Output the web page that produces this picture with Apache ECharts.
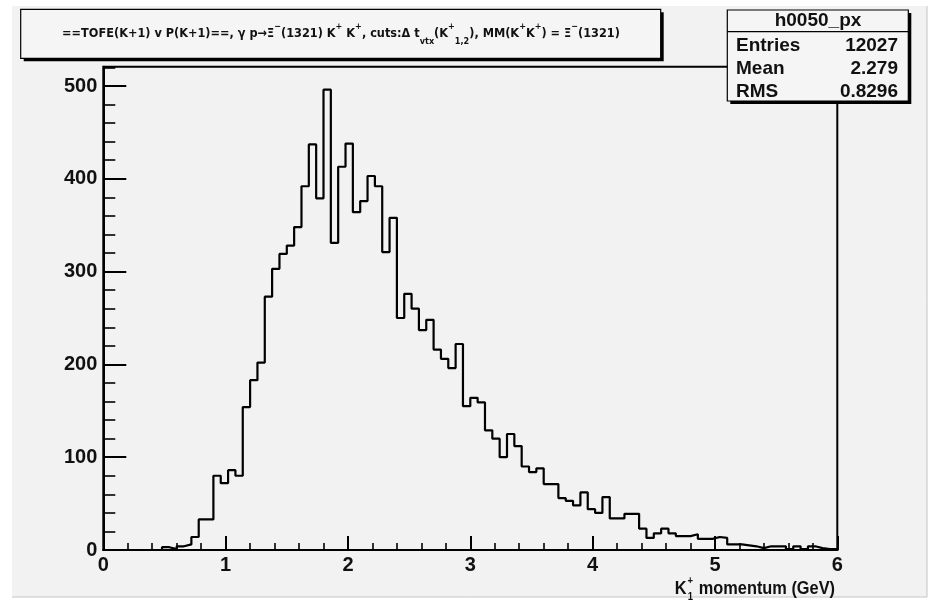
<!DOCTYPE html>
<html>
<head>
<meta charset="utf-8">
<title>h0050_px</title>
<script src="https://cdn.jsdelivr.net/npm/echarts@6/dist/echarts.min.js"></script>
<style>
  html, body { margin: 0; padding: 0; background: #ffffff; }
  #chart { width: 931px; height: 606px; }
</style>
</head>
<body>
<div id="chart"></div>
<script>
// K1+ momentum histogram: 100 bins of 0.06 GeV between 0 and 6 GeV
const binLow = 0;
const binWidth = 0.06;
const counts = [
  0, 0, 0, 0, 0, 0, 0, 0, 3, 1,
  4, 6, 14, 33, 33, 80, 72, 86, 80, 154,
  183, 202, 273, 303, 319, 328, 348, 392, 437, 379,
  496, 331, 413, 438, 364, 376, 403, 392, 321, 358,
  250, 276, 260, 237, 248, 216, 206, 196, 222, 155,
  164, 159, 129, 120, 100, 125, 112, 90, 84, 88,
  71, 71, 56, 53, 48, 62, 44, 40, 57, 34,
  34, 39, 39, 23, 13, 18, 23, 18, 15, 15,
  17, 12, 12, 14, 13, 6, 6, 5, 4, 2,
  4, 4, 4, 1, 4, 1, 4, 2, 1, 1
];

// axis ticks
const xTicks = [0, 1, 2, 3, 4, 5, 6];
const yTicks = [0, 100, 200, 300, 400, 500];
const yMinorStep = 20;
const yMax = 520.8;

// text
const titleText = '{n|==TOFE(K+1) v P(K+1)==, γ p→Ξ}{sup|−}{n|(1321) K}{sup|+}{n| K}{sup|+}' +
  '{n|, cuts:Δ t}{sub|vtx}{n|(K}{sup|+}{sub|1,2}{n|), MM(K}{sup|+}{n|K}{sup|+}{n|) = Ξ}{sup|−}{n|(1321)}';
const statsName = 'h0050_px';
const statsLabels = ['Entries', 'Mean', 'RMS'];
const statsValues = ['12027', '2.279', '0.8296'];
const xTitleMain = 'K';
const xTitleSup = '+';
const xTitleSub = '1';
const xTitleRest = ' momentum (GeV)';

const FONT = '"Liberation Sans", Arial, Helvetica, sans-serif';
const FONT_N = '"Liberation Sans Narrow", "DejaVu Sans Condensed", "Liberation Sans", sans-serif';

// outline points of the histogram (lower bin edges plus the closing edge)
const outline = counts.map((c, i) => [binLow + i * binWidth, c]);
outline.push([binLow + counts.length * binWidth, counts[counts.length - 1]]);

function measure(text, font) {
  const ctx = document.createElement('canvas').getContext('2d');
  ctx.font = font;
  return ctx.measureText(text).width;
}

const chart = echarts.init(document.getElementById('chart'), null, { renderer: 'canvas' });

const gridL = 103.3, gridR = 837.3, gridT = 66.7, gridB = 550;

// x axis title: condensed bold text, right aligned with the frame
const xTitleFont = 'bold 19px "Liberation Sans", Arial, sans-serif';
const xTitleScale = 0.86;
const restW = measure(xTitleRest, xTitleFont);
const scriptOff = -restW - 9;

const axisText = { color: '#111', fontSize: 20, fontWeight: 'bold', fontFamily: FONT };
const statsFont = 'bold 19px ' + FONT;

const option = {
  backgroundColor: 'transparent',
  animation: false,
  grid: {
    left: gridL, right: 931 - gridR, top: gridT, bottom: 606 - gridB,
    show: true, borderColor: '#000', borderWidth: 2, backgroundColor: 'transparent',
    containLabel: false
  },
  xAxis: {
    type: 'value',
    min: xTicks[0], max: xTicks[xTicks.length - 1], interval: xTicks[1] - xTicks[0],
    axisLine: { show: true, lineStyle: { color: '#000', width: 2 } },
    axisTick: { show: true, inside: true, length: 14, lineStyle: { color: '#000', width: 2 } },
    minorTick: { show: true, splitNumber: 5, length: 7, lineStyle: { color: '#000', width: 1.6 } },
    splitLine: { show: false },
    axisLabel: Object.assign({ margin: 5 }, axisText)
  },
  yAxis: [
    {
      type: 'value', position: 'left',
      min: yTicks[0], max: yMax, interval: yTicks[1] - yTicks[0],
      axisLine: { show: true, lineStyle: { color: '#000', width: 2 } },
      axisTick: { show: true, inside: true, length: 23, lineStyle: { color: '#000', width: 2 } },
      splitLine: { show: false },
      axisLabel: Object.assign({ margin: 6, showMaxLabel: false }, axisText)
    },
    {
      // minor ticks every 20 entries
      type: 'value', position: 'left', offset: 0,
      min: yTicks[0], max: yMax, interval: yMinorStep,
      axisLine: { show: false },
      axisTick: { show: true, inside: true, length: 12, lineStyle: { color: '#000', width: 1.6 } },
      splitLine: { show: false },
      axisLabel: { show: false }
    }
  ],
  series: [{
    type: 'line',
    step: 'end',
    data: outline,
    symbol: 'none',
    silent: true,
    lineStyle: { color: '#000', width: 2.2 },
    z: 3
  }],
  graphic: [
    // canvas pad
    { type: 'rect', z: -20, silent: true, shape: { x: 12, y: 6, width: 915, height: 591 }, style: { fill: '#f2f2f2' } },
    { type: 'line', z: -19, silent: true, shape: { x1: 927, y1: 6, x2: 927, y2: 597 }, style: { stroke: '#c4c4c4', lineWidth: 1 } },
    { type: 'line', z: -19, silent: true, shape: { x1: 12, y1: 597, x2: 927, y2: 597 }, style: { stroke: '#c4c4c4', lineWidth: 1 } },

    // title box with shadow
    { type: 'rect', z: 100, silent: true, shape: { x: 23.7, y: 12.3, width: 640, height: 49 }, style: { fill: '#000' } },
    { type: 'rect', z: 101, silent: true, shape: { x: 20.7, y: 9.3, width: 640, height: 49 }, style: { fill: '#f5f5f5', stroke: '#000', lineWidth: 1.2 } },
    {
      type: 'text', z: 102, silent: true, x: 341, y: 34,
      style: {
        text: titleText, align: 'center', verticalAlign: 'middle', textAlign: 'center', textVerticalAlign: 'middle',
        fill: '#111',
        rich: {
          n: { fontSize: 12.6, fontWeight: 'bold', fontFamily: FONT_N, lineHeight: 24, verticalAlign: 'middle', color: '#111' },
          sup: { fontSize: 9, fontWeight: 'bold', fontFamily: FONT_N, lineHeight: 11, verticalAlign: 'top', color: '#111' },
          sub: { fontSize: 9, fontWeight: 'bold', fontFamily: FONT_N, lineHeight: 11, verticalAlign: 'bottom', color: '#111' }
        }
      }
    },

    // statistics box with shadow
    { type: 'rect', z: 100, silent: true, shape: { x: 730.3, y: 13, width: 181, height: 91 }, style: { fill: '#000' } },
    { type: 'rect', z: 101, silent: true, shape: { x: 727.3, y: 10, width: 181, height: 91 }, style: { fill: '#f5f5f5', stroke: '#000', lineWidth: 1.2 } },
    { type: 'line', z: 102, silent: true, shape: { x1: 727.3, y1: 31.7, x2: 908.3, y2: 31.7 }, style: { stroke: '#000', lineWidth: 1.2 } },
    {
      type: 'text', z: 102, silent: true, x: 818, y: 21,
      style: { text: statsName, align: 'center', verticalAlign: 'middle', textAlign: 'center', textVerticalAlign: 'middle',
        fill: '#111', font: statsFont }
    },
    ...statsLabels.map((t, i) => ({
      type: 'text', z: 102, silent: true, x: 736, y: 46 + i * 23,
      style: { text: t, align: 'left', verticalAlign: 'middle', textAlign: 'left', textVerticalAlign: 'middle',
        fill: '#111', font: statsFont }
    })),
    ...statsValues.map((t, i) => ({
      type: 'text', z: 102, silent: true, x: 898, y: 46 + i * 23,
      style: { text: t, align: 'right', verticalAlign: 'middle', textAlign: 'right', textVerticalAlign: 'middle',
        fill: '#111', font: statsFont }
    })),

    // x axis title
    {
      type: 'group', x: 835, y: 589, scaleX: xTitleScale, z: 102,
      children: [
        { type: 'text', z: 102, silent: true, x: 0, y: 0,
          style: { text: xTitleRest, align: 'right', verticalAlign: 'middle', textAlign: 'right', textVerticalAlign: 'middle',
            fill: '#111', font: xTitleFont } },
        { type: 'text', z: 102, silent: true, x: scriptOff, y: 0,
          style: { text: xTitleMain, align: 'right', verticalAlign: 'middle', textAlign: 'right', textVerticalAlign: 'middle',
            fill: '#111', font: xTitleFont } },
        { type: 'text', z: 102, silent: true, x: scriptOff + 1, y: -8,
          style: { text: xTitleSup, align: 'left', verticalAlign: 'middle', textAlign: 'left', textVerticalAlign: 'middle',
            fill: '#111', font: 'bold 11px ' + FONT } },
        { type: 'text', z: 102, silent: true, x: scriptOff + 1.5, y: 8,
          style: { text: xTitleSub, align: 'left', verticalAlign: 'middle', textAlign: 'left', textVerticalAlign: 'middle',
            fill: '#111', font: 'bold 11px ' + FONT } }
      ]
    }
  ]
};

chart.setOption(option);
</script>
</body>
</html>
